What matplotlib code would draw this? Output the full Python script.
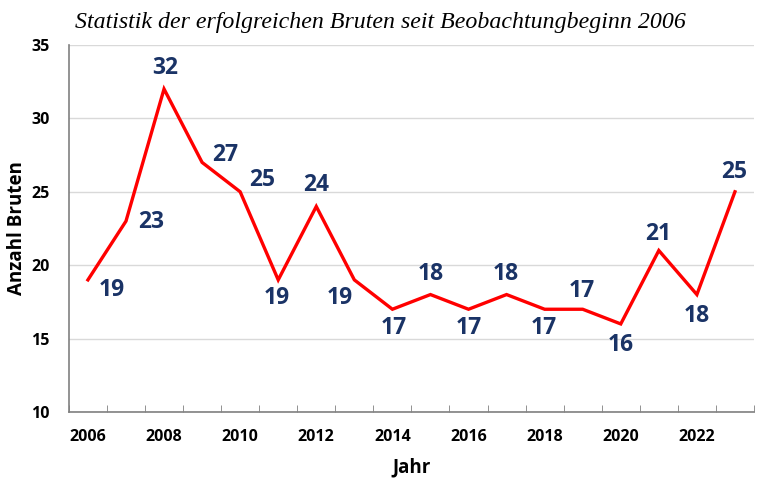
import numpy as np
import matplotlib.pyplot as plt
from matplotlib.ticker import FixedLocator

years = list(range(2006, 2024))
bruten = [19, 23, 32, 27, 25, 19, 24, 19, 17, 18, 17, 18, 17, 17, 16, 21, 18, 25]
# label offsets in pixels (dx, dy) relative to each point
label_off = [(24, -10), (25, -1), (1, 21), (23, 7), (22, 12), (-1, -18), (0, 21), (-15, -18),
             (1, -19), (0, 21), (0, -19), (-1, 21), (-1, -19), (-1, 18), (0, -21), (-1, 17),
             (0, -21), (-1, 20)]

navy = "#1A3366"
sans = ["Open Sans", "DejaVu Sans"]

fig = plt.figure(figsize=(7.57, 4.78), dpi=100)
ax = fig.add_axes([0.091, 0.138, 0.905, 0.768])

x = np.arange(len(years))
ax.plot(x, bruten, color="#FF0000", linewidth=2.4, solid_joinstyle="miter", zorder=3)

for i, v in enumerate(bruten):
    dx, dy = label_off[i]
    ax.annotate(str(v), (x[i], v), xytext=(dx, dy), textcoords="offset pixels",
                ha="center", va="center", fontsize=16.5, fontweight="bold",
                color=navy, family=sans, zorder=4)

ax.set_xlim(-0.5, len(years) - 0.5)
ax.set_ylim(10, 35)
ax.set_yticks([10, 15, 20, 25, 30, 35])
ax.yaxis.grid(True, color="#D9D9D9", linewidth=1)
ax.set_axisbelow(True)

ax.set_xticks(x[::2])
ax.set_xticklabels([str(y) for y in years[::2]])
ax.xaxis.set_minor_locator(FixedLocator(np.arange(-0.5, len(years), 1.0)))
ax.tick_params(axis="x", which="major", length=0, pad=12)
ax.tick_params(axis="x", which="minor", direction="in", length=5, color="#808080")
ax.tick_params(axis="y", length=0, pad=14)

for lab in ax.get_xticklabels() + ax.get_yticklabels():
    lab.set_fontweight("bold")
    lab.set_fontsize(11.5)
    lab.set_family(sans)

for s in ["top", "right"]:
    ax.spines[s].set_visible(False)
for s in ["left", "bottom"]:
    ax.spines[s].set_color("#808080")
    ax.spines[s].set_linewidth(1.2)

ax.set_xlabel("Jahr", fontsize=13.5, fontweight="bold", family=sans, labelpad=9)
ax.set_ylabel("Anzahl Bruten", fontsize=13.5, fontweight="bold", family=sans, labelpad=3)

fig.text(0.099, 0.953, "Statistik der erfolgreichen Bruten seit Beobachtungbeginn 2006",
         fontsize=17.2, fontstyle="italic", family=["Liberation Serif", "DejaVu Serif"],
         ha="left", va="center")

fig.savefig("out.png", dpi=100)
